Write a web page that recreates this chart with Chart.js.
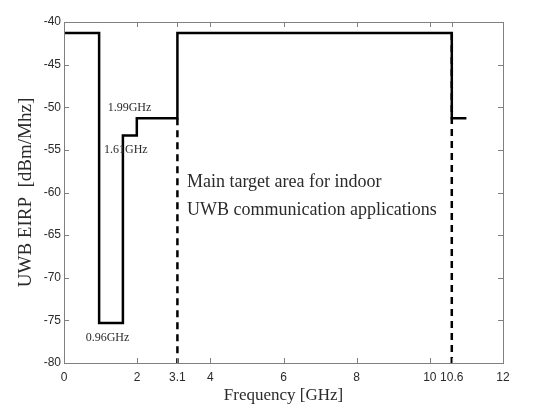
<!DOCTYPE html>
<html>
<head>
<meta charset="utf-8">
<script src="https://cdn.jsdelivr.net/npm/chart.js@4"></script>
<style>
  html, body { margin: 0; padding: 0; background: #fff; }
  #wrap { width: 537px; height: 416px; }
</style>
</head>
<body>
<div id="wrap"><canvas id="maskChart"></canvas></div>
<script>
// FCC indoor UWB emission mask
const bandEdges = [0, 0.96, 1.61, 1.99, 3.1, 10.6, 11];
const bandLevels = [-41.3, -75.3, -53.3, -51.3, -41.3, -51.3];
const markerFreqs = [3.1, 10.6];
const markerTops = [-51.3, -41.3];
const xTickValues = [0, 2, 3.1, 4, 6, 8, 10, 10.6, 12];
const yTickValues = [-80, -75, -70, -65, -60, -55, -50, -45, -40];

const maskPoints = [];
bandLevels.forEach((lvl, i) => {
    maskPoints.push({ x: bandEdges[i], y: lvl });
    maskPoints.push({ x: bandEdges[i + 1], y: lvl });
});

const markerSets = markerFreqs.map((f, i) => ({
    data: [{ x: f, y: markerTops[i] }, { x: f, y: -80 }],
    borderColor: '#000',
    borderWidth: 2.5,
    borderDash: [7, 5],
    pointRadius: 0,
    fill: false
}));

const serif = '"Liberation Serif", "DejaVu Serif", serif';
const textCol = '#2a2a2a';

// box, inward ticks and text notes
const boxPlugin = {
    id: 'boxPlugin',
    afterDraw(chart) {
        const { ctx, chartArea: a, scales } = chart;
        ctx.save();
        ctx.strokeStyle = '#808080';
        ctx.lineWidth = 1;
        ctx.strokeRect(a.left + 0.5, a.top + 0.5, a.right - a.left, a.bottom - a.top);
        ctx.beginPath();
        xTickValues.forEach(v => {
            const px = Math.round(scales.x.getPixelForValue(v)) + 0.5;
            ctx.moveTo(px, a.bottom); ctx.lineTo(px, a.bottom - 5);
            ctx.moveTo(px, a.top); ctx.lineTo(px, a.top + 5);
        });
        yTickValues.forEach(v => {
            const py = Math.round(scales.y.getPixelForValue(v)) + 0.5;
            ctx.moveTo(a.left, py); ctx.lineTo(a.left + 5, py);
            ctx.moveTo(a.right, py); ctx.lineTo(a.right - 5, py);
        });
        ctx.stroke();

        const notes = [
            { t: '1.99GHz', x: 1.79, y: -50.1, size: 12, align: 'center' },
            { t: '1.61GHz', x: 1.69, y: -55.0, size: 12, align: 'center' },
            { t: '0.96GHz', x: 1.19, y: -77.0, size: 12, align: 'center' },
            { t: 'Main target area for indoor', x: 3.36, y: -58.8, size: 18, align: 'left' },
            { t: 'UWB communication applications', x: 3.36, y: -62.1, size: 18, align: 'left' }
        ];
        ctx.fillStyle = textCol;
        ctx.textBaseline = 'middle';
        notes.forEach(n => {
            ctx.font = n.size + 'px ' + serif;
            ctx.textAlign = n.align;
            ctx.fillText(n.t, scales.x.getPixelForValue(n.x), scales.y.getPixelForValue(n.y));
        });
        ctx.restore();
    }
};

new Chart(document.getElementById('maskChart'), {
    type: 'line',
    data: {
        datasets: [{
            data: maskPoints,
            borderColor: '#000',
            borderWidth: 2.5,
            pointRadius: 0,
            fill: false
        }, ...markerSets]
    },
    options: {
        responsive: true,
        maintainAspectRatio: false,
        animation: false,
        layout: { padding: { top: 22, right: 34, left: 0, bottom: 0 } },
        plugins: { legend: { display: false }, tooltip: { enabled: false } },
        scales: {
            x: {
                type: 'linear',
                min: 0, max: 12,
                afterBuildTicks: s => { s.ticks = xTickValues.map(v => ({ value: v })); },
                afterFit: s => { s.height = 53; },
                grid: { display: false, drawTicks: false },
                border: { display: false },
                ticks: {
                    autoSkip: false, maxRotation: 0, padding: 7,
                    color: textCol,
                    font: { family: '"Liberation Sans", Arial, sans-serif', size: 12 },
                    callback: v => String(v)
                },
                title: {
                    display: true, text: 'Frequency [GHz]', color: textCol,
                    font: { family: serif, size: 17 }, padding: { top: 0, bottom: 10 }
                }
            },
            y: {
                min: -80, max: -40,
                afterBuildTicks: s => { s.ticks = yTickValues.map(v => ({ value: v })); },
                afterFit: s => { s.width = 64; },
                grid: { display: false, drawTicks: false },
                border: { display: false },
                ticks: {
                    padding: 3, color: textCol,
                    font: { family: '"Liberation Sans", Arial, sans-serif', size: 12 }
                },
                title: {
                    display: true, text: 'UWB EIRP  [dBm/Mhz]', color: textCol,
                    font: { family: serif, size: 19 }, padding: { top: 15, bottom: 0 }
                }
            }
        }
    },
    plugins: [boxPlugin]
});
</script>
</body>
</html>
